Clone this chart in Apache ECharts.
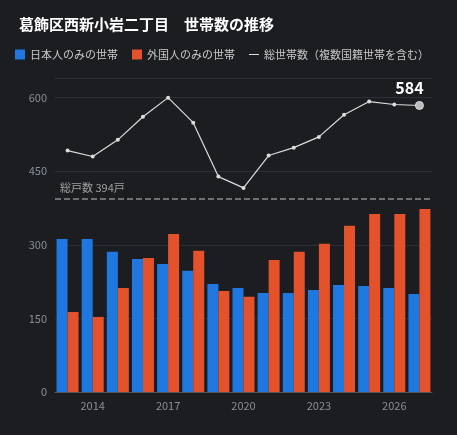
<!DOCTYPE html>
<html><head><meta charset="utf-8">
<script src="https://cdn.jsdelivr.net/npm/echarts@6/dist/echarts.min.js"></script>
<style>html,body{margin:0;padding:0;background:#1b1d21}#c{width:457px;height:435px}</style>
</head><body><div id="c"></div>
<script>
const years=['2013','2014','2015','2016','2017','2018','2019','2020','2021','2022','2023','2024','2025','2026','2027'];
const japanese=[312,312,286,271,261,247,220,212,202,202,208,218,216,212,200];
const foreign=[163,153,212,273,322,288,206,194,269,286,302,339,363,363,373];
const total=[492,480,514,561,600,549,439,416,482,498,520,565,592,586,584];
const households=394;
const chart=echarts.init(document.getElementById('c'));
const lineData=total.map((v,i)=>i===total.length-1?{value:v,symbolSize:8,itemStyle:{color:'#bbbbbb',borderColor:'#dddddd'},label:{show:true,position:'top',color:'#ffffff',fontSize:16,fontWeight:'bold',offset:[-10,0],formatter:'{c}'}}:v);
chart.setOption({
backgroundColor:'#1b1d21',
textStyle:{fontFamily:'Noto Sans CJK JP'},
title:{text:'葛飾区西新小岩二丁目　世帯数の推移',left:14,top:12,textStyle:{color:'#ffffff',fontSize:15,fontWeight:'bold'}},
legend:{left:10,top:44,itemWidth:10,itemHeight:10,itemGap:14,textStyle:{color:'#c8c8c8',fontSize:11},
data:[{name:'日本人のみの世帯',icon:'rect'},{name:'外国人のみの世帯',icon:'rect'},{name:'総世帯数（複数国籍世帯を含む）',icon:'path://M0,4.5H10V5.5H0Z'}]},
grid:{left:55,right:25,top:78,bottom:43},
xAxis:{type:'category',data:years,axisLine:{lineStyle:{color:'#555'}},axisTick:{show:false},
axisLabel:{color:'#8a8f98',fontSize:11,interval:(i)=>i%3===1}},
yAxis:{type:'value',min:0,max:640,interval:150,axisLabel:{color:'#8a8f98',fontSize:11,showMaxLabel:false},splitLine:{lineStyle:{color:'#2c2f35'}}},
series:[
{name:'日本人のみの世帯',type:'bar',data:japanese,barWidth:11,barGap:'0%',itemStyle:{color:'#1f78e0'}},
{name:'外国人のみの世帯',type:'bar',data:foreign,barWidth:11,itemStyle:{color:'#e4522b'},
markLine:{symbol:'none',silent:true,data:[{yAxis:households}],lineStyle:{color:'#8a8a8a',type:'dashed',width:1.5},
label:{position:'insideStartTop',formatter:'総戸数 394戸',color:'#a0a0a0',fontSize:11}}},
{name:'総世帯数（複数国籍世帯を含む）',type:'line',data:lineData,symbol:'circle',symbolSize:4,
lineStyle:{color:'#dcdcdc',width:1.2},itemStyle:{color:'#dcdcdc'}}
]});
</script></body></html>
